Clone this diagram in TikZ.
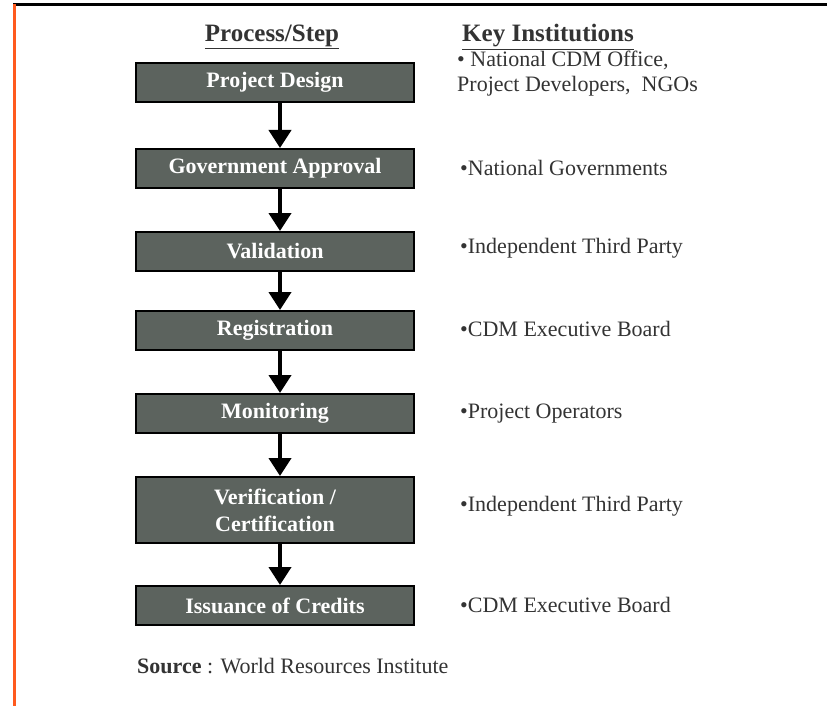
\documentclass[tikz,border=0pt]{standalone}
\usepackage{fontspec}
\setmainfont{Liberation Serif}
\usetikzlibrary{arrows.meta}
\definecolor{boxfill}{HTML}{5C635E}
\definecolor{edgeorange}{HTML}{FF5A1E}
\definecolor{txtgray}{HTML}{333333}
\begin{document}
\begin{tikzpicture}[x=1pt,y=-1pt,
  stepbox/.style={draw=black,line width=2pt,fill=boxfill,minimum width=278pt,
    text=white,font=\fontsize{22}{27}\selectfont\bfseries,align=center,inner sep=0pt},
  header/.style={font=\fontsize{25}{30}\selectfont\bfseries,text=txtgray,inner sep=0pt},
  inst/.style={anchor=west,font=\fontsize{22}{25}\selectfont,text=txtgray,align=left,inner sep=0pt},
  flow/.style={line width=4pt,-{Triangle[width=22pt,length=18pt]}}
]
\useasboundingbox (0,0) rectangle (827,706);
\fill[white] (0,0) rectangle (827,706);
% frame lines
\draw[line width=3pt,black] (13,5) -- (827,5);
\draw[line width=3pt,edgeorange] (14,4) -- (14,706);
% headers
\node[header] (h1) at (272,37) {\underline{Process/Step}};
\node[header] (h2) at (548,37) {\underline{Key Institutions}};
% boxes
\node[stepbox,minimum height=39pt] (s1) at (275,82.5) {Project Design};
\node[stepbox,minimum height=39pt] (s2) at (275,168.5) {Government Approval};
\node[stepbox,minimum height=39pt] (s3) at (275,251.5) {Validation};
\node[stepbox,minimum height=39pt] (s4) at (275,330.5) {Registration};
\node[stepbox,minimum height=39pt] (s5) at (275,413.5) {Monitoring};
\node[stepbox,minimum height=66pt] (s6) at (275,510) {Verification /\\Certification};
\node[stepbox,minimum height=39pt] (s7) at (275,605.5) {Issuance of Credits};
% arrows
\foreach \a/\b in {s1/s2,s2/s3,s3/s4,s4/s5,s5/s6,s6/s7}
  \draw[flow] ([xshift=5pt]\a.south) -- ([xshift=5pt]\b.north);
% institutions
\node[inst] (k1) at (457,74) {• National CDM Office,\\Project Developers,\ \ NGOs};
\node[inst] (k2) at (460,168) {•National Governments};
\node[inst] (k3) at (460,248) {•Independent Third Party};
\node[inst] (k4) at (460,329) {•CDM Executive Board};
\node[inst] (k5) at (460,414) {•Project Operators};
\node[inst] (k6) at (460,506) {•Independent Third Party};
\node[inst] (k7) at (460,605) {•CDM Executive Board};
% source
\node[inst] (src) at (137,666) {\textbf{Source} : World Resources Institute};
\end{tikzpicture}
\end{document}
